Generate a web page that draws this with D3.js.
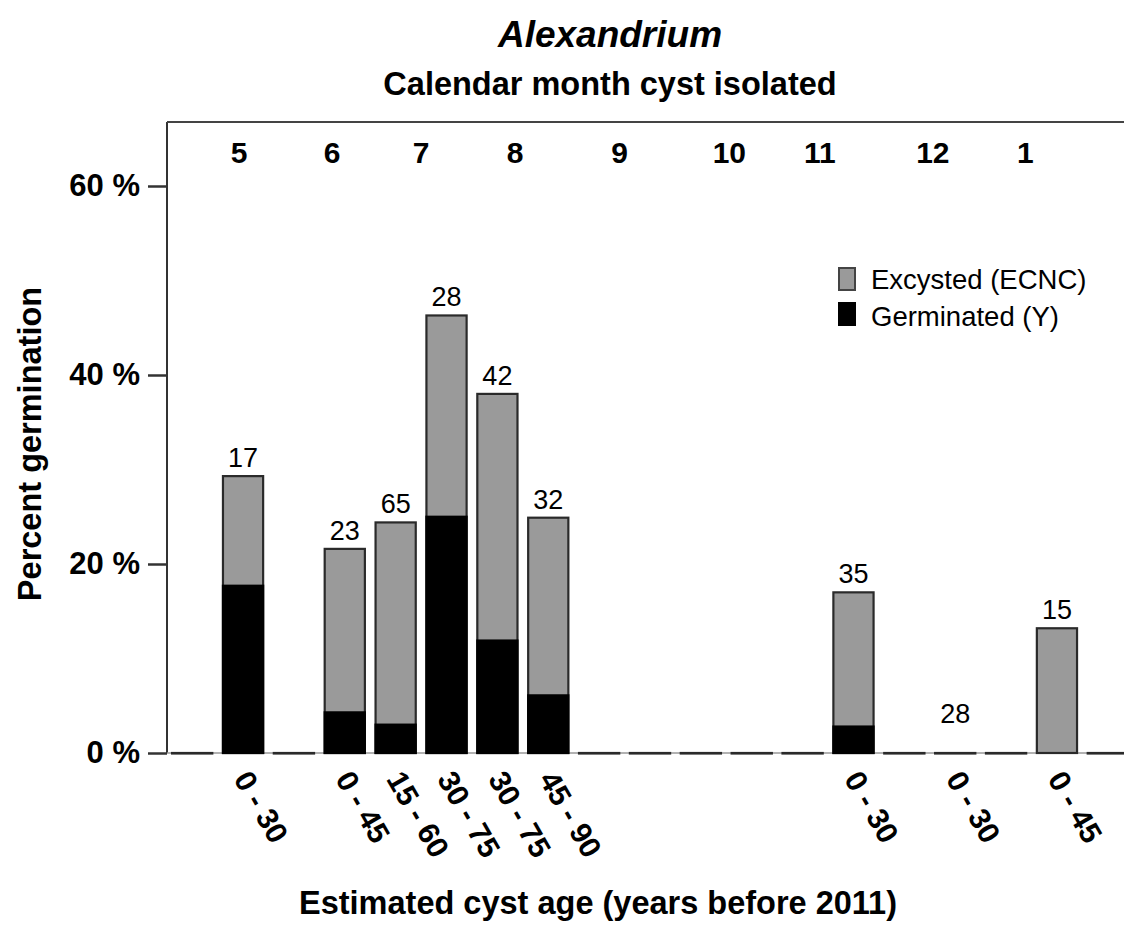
<!DOCTYPE html>
<html>
<head>
<meta charset="utf-8">
<script src="https://cdn.jsdelivr.net/npm/d3@7"></script>
<style>
  html, body { margin: 0; padding: 0; background: #fff; }
  svg { display: block; font-family: "Liberation Sans", Arial, sans-serif; }
</style>
</head>
<body>
<svg id="chart" width="1124" height="930"></svg>
<script>
// Age class of each slot along the x axis (blank = no cysts examined)
const ageClasses = ["", "0 - 30", "", "0 - 45", "15 - 60", "30 - 75", "30 - 75", "45 - 90",
                    "", "", "", "", "", "0 - 30", "", "0 - 30", "", "0 - 45", ""];
// Percent of cysts that excysted (whole bar) and that germinated (black part)
const excystedPct = [0, 29.3, 0, 21.6, 24.4, 46.3, 38.0, 24.9,
                     0, 0, 0, 0, 0, 17.0, 0, 0, 0, 13.2, 0];
const germinatedPct = [0, 17.7, 0, 4.3, 3.0, 25.0, 11.9, 6.1,
                       0, 0, 0, 0, 0, 2.8, 0, 0, 0, 0, 0];
// Number of cysts isolated per age class
const nCysts = [null, 17, null, 23, 65, 28, 42, 32,
                null, null, null, null, null, 35, null, 28, null, 15, null];
// Calendar month labels and the (fractional) slot they sit over
const months = ["5", "6", "7", "8", "9", "10", "11", "12", "1"];
const monthSlot = [0.92, 2.75, 4.5, 6.35, 8.4, 10.56, 12.34, 14.56, 16.38];
const yTicks = [0, 20, 40, 60];
const legendItems = ["Excysted (ECNC)", "Germinated (Y)"];

const svg = d3.select("#chart");
const plotLeft = 167, plotRight = 1133, plotTop = 122, plotBase = 753;
const GRAY = "#9a9a9a", EDGE = "#2a2a2a";

const idx = d3.range(ageClasses.length);
const x = d3.scaleBand().domain(idx).range([plotLeft, plotRight])
  .paddingInner(0.21).paddingOuter(0.1);
const y = d3.scaleLinear().domain([0, 60]).range([plotBase, 186]);
const slotX = d3.scaleLinear().domain([0, idx.length - 1])
  .range([x(0) + x.bandwidth() / 2, x(idx.length - 1) + x.bandwidth() / 2]);

// frame: left axis line and top border
svg.append("line").attr("x1", plotLeft).attr("x2", plotLeft).attr("y1", plotTop).attr("y2", plotBase)
  .attr("stroke", "#333").attr("stroke-width", 2);
svg.append("line").attr("x1", plotLeft).attr("x2", 1124).attr("y1", plotTop).attr("y2", plotTop)
  .attr("stroke", "#444").attr("stroke-width", 2);

// baseline
svg.append("line").attr("x1", plotLeft).attr("x2", 1124).attr("y1", plotBase).attr("y2", plotBase)
  .attr("stroke", "#999").attr("stroke-width", 1.5);

// y axis
const yAxis = svg.append("g").attr("transform", `translate(${plotLeft},0)`)
  .call(d3.axisLeft(y).tickValues(yTicks).tickFormat(d => d + " %").tickSize(19).tickPadding(8));
yAxis.select(".domain").remove();
yAxis.selectAll(".tick line").attr("stroke", "#333").attr("stroke-width", 2.5);
yAxis.selectAll(".tick text").attr("font-size", 31).attr("font-weight", "bold")
  .attr("fill", "#000").style("font-family", "'Liberation Sans', Arial, sans-serif");

// excysted bars (full height)
svg.append("g").selectAll("rect").data(idx).join("rect")
  .attr("x", i => x(i))
  .attr("width", x.bandwidth())
  .attr("y", i => y(excystedPct[i]))
  .attr("height", i => Math.max(0.5, y(0) - y(excystedPct[i])))
  .attr("fill", GRAY)
  .attr("stroke", EDGE).attr("stroke-width", 2.2);

// germinated part
svg.append("g").selectAll("rect").data(idx.filter(i => germinatedPct[i] > 0)).join("rect")
  .attr("x", i => x(i))
  .attr("width", x.bandwidth())
  .attr("y", i => y(germinatedPct[i]))
  .attr("height", i => y(0) - y(germinatedPct[i]))
  .attr("fill", "#000")
  .attr("stroke", "#000").attr("stroke-width", 2.2);

// n labels above bars
svg.append("g").selectAll("text").data(idx.filter(i => nCysts[i] != null)).join("text")
  .attr("x", i => x(i) + x.bandwidth() / 2)
  .attr("y", i => y(excystedPct[i]) - (excystedPct[i] > 0 ? 9 : 30))
  .attr("text-anchor", "middle")
  .attr("font-size", 27)
  .text(i => nCysts[i]);

// rotated age-class labels
svg.append("g").selectAll("text").data(idx.filter(i => ageClasses[i] !== "")).join("text")
  .attr("transform", i => `translate(${x(i) + x.bandwidth() / 2 - 10},779) rotate(60)`)
  .attr("font-size", 30).attr("font-weight", "bold")
  .text(i => ageClasses[i]);

// calendar month labels along the top
svg.append("g").selectAll("text").data(months).join("text")
  .attr("x", (d, i) => slotX(monthSlot[i]))
  .attr("y", 163)
  .attr("text-anchor", "middle")
  .attr("font-size", 30).attr("font-weight", "bold")
  .text(d => d);

// titles
svg.append("text").attr("x", 610).attr("y", 47).attr("text-anchor", "middle")
  .attr("font-size", 37).attr("font-weight", "bold").attr("font-style", "italic")
  .text("Alexandrium");
svg.append("text").attr("x", 610).attr("y", 95).attr("text-anchor", "middle")
  .attr("font-size", 32.5).attr("font-weight", "bold")
  .text("Calendar month cyst isolated");
svg.append("text").attr("x", 598).attr("y", 914).attr("text-anchor", "middle")
  .attr("font-size", 32.5).attr("font-weight", "bold")
  .text("Estimated cyst age (years before 2011)");
svg.append("text").attr("transform", "translate(41,444) rotate(-90)").attr("text-anchor", "middle")
  .attr("font-size", 32.5).attr("font-weight", "bold")
  .text("Percent germination");

// legend
const legend = svg.append("g");
const legendFill = [GRAY, "#000"];
legend.selectAll("rect").data(legendItems).join("rect")
  .attr("x", 839).attr("y", (d, i) => 268 + i * 35)
  .attr("width", 16).attr("height", 22)
  .attr("fill", (d, i) => legendFill[i])
  .attr("stroke", (d, i) => i === 0 ? "#444" : "#000").attr("stroke-width", 2);
legend.selectAll("text").data(legendItems).join("text")
  .attr("x", 871).attr("y", (d, i) => 289 + i * 37)
  .attr("font-size", 27.5)
  .text(d => d);
</script>
</body>
</html>
